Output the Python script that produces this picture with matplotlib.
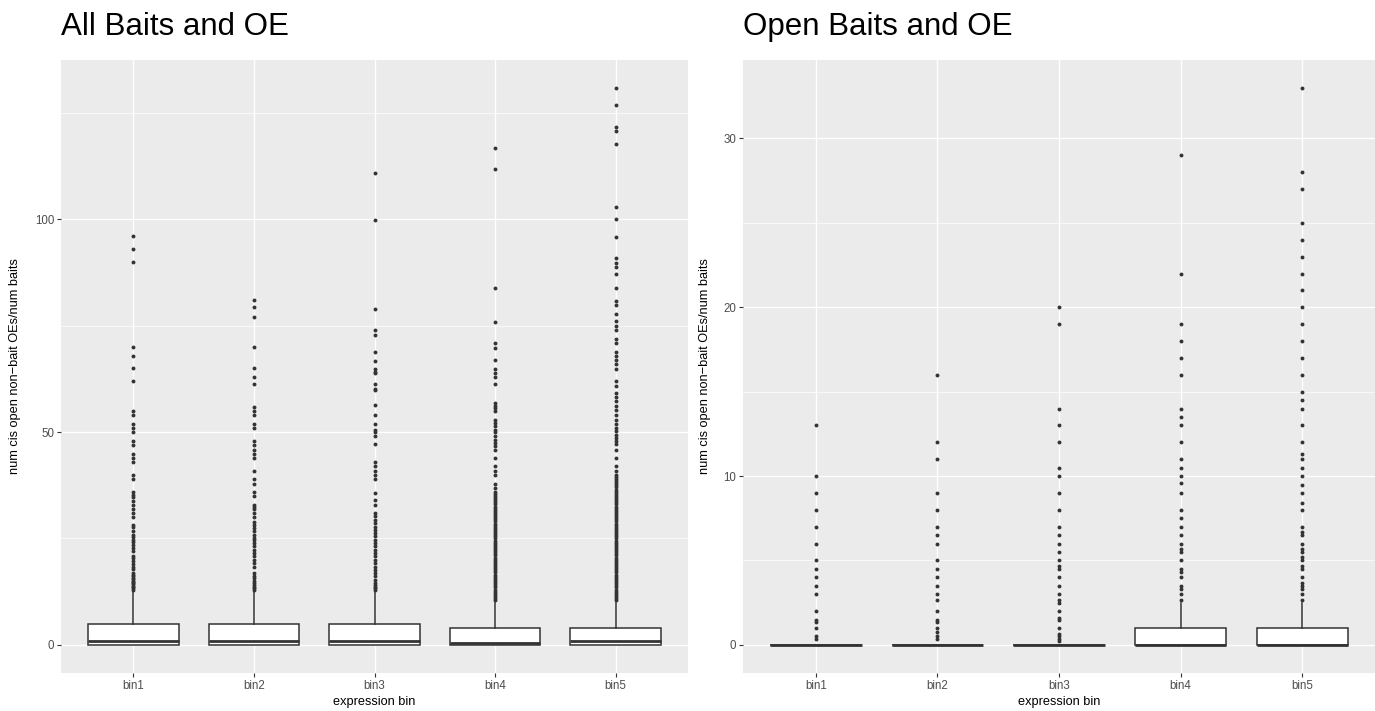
import matplotlib
matplotlib.use('Agg')
import matplotlib.pyplot as plt
import numpy as np

bins = ['bin1', 'bin2', 'bin3', 'bin4', 'bin5']

# left panel: all baits and OE
all_q1 = [0, 0, 0, 0, 0]
all_med = [1, 1, 1, 0.5, 1]
all_q3 = [5, 5, 5, 4, 4]
all_whishi = [12.3, 12.3, 12.3, 10, 10]
all_out_bin1 = [12.8, 13.3, 13.6, 13.9, 14.2, 14.5, 14.8, 15.1, 15.4, 15.7, 16.2, 16.5,
                16.9, 17.9, 18.4, 19.1, 19.8, 20.4, 20.9, 22.0, 22.7, 23.5, 24.1, 24.7,
                25.3, 25.9, 26.7, 27.7, 28.2, 30.0, 31.0, 31.9, 32.8, 33.9, 34.7, 35.3,
                35.9, 38.9, 39.8, 43.0, 43.9, 44.9, 46.9, 47.8, 50.0, 51.0, 51.9, 54.0,
                54.9, 62.0, 65.0, 68.0, 70.0, 90.0, 93.0, 96.0]
all_out_bin2 = [12.9, 13.3, 13.7, 14.1, 14.5, 15.1, 15.7, 16.2, 16.9, 18.4, 19.2, 20.0,
                20.8, 21.6, 22.4, 23.2, 24.0, 24.6, 25.1, 25.9, 26.7, 27.4, 28.2, 28.9,
                30.0, 31.0, 31.9, 32.4, 32.9, 34.9, 35.9, 37.9, 38.9, 40.8, 43.8, 44.9,
                45.9, 46.9, 47.8, 51.0, 51.9, 54.0, 54.9, 55.9, 61.2, 63.0, 65.0, 70.0,
                77.0, 79.5, 81.0]
all_out_bin3 = [12.8, 13.3, 13.7, 14.1, 14.5, 15.3, 16.1, 16.9, 17.6, 18.4, 19.2, 20.0,
                20.8, 21.6, 22.4, 23.2, 23.9, 24.7, 25.5, 26.3, 27.1, 27.8, 28.6, 29.4,
                30.2, 31.0, 32.8, 34.1, 35.8, 38.9, 39.8, 40.8, 42.0, 42.9, 47.1, 49.0,
                50.0, 50.6, 51.9, 54.0, 56.3, 59.8, 60.2, 61.2, 63.8, 64.2, 64.8, 66.8,
                68.8, 72.8, 74.0, 78.9, 99.8, 110.9]
all_out_bin4 = [10.5, 11.0, 11.5, 12.0, 12.5, 13.0, 13.5, 14.0, 14.5, 15.0, 15.5, 16.0,
                16.5, 17.0, 17.5, 18.0, 18.5, 19.0, 19.5, 20.0, 20.5, 21.0, 21.5, 22.0,
                22.5, 23.0, 23.5, 24.0, 24.5, 25.0, 25.5, 26.0, 26.5, 27.0, 27.5, 28.0,
                28.5, 29.0, 29.5, 30.0, 30.5, 31.0, 31.5, 32.0, 32.5, 33.0, 33.5, 34.0,
                34.5, 35.0, 35.5, 36.0, 36.9, 37.9, 39.8, 40.8, 42.0, 43.9, 45.9, 46.7,
                47.5, 48.2, 49.0, 50.0, 50.6, 51.4, 52.2, 52.8, 54.9, 55.7, 56.2, 56.9,
                61.3, 62.9, 63.8, 64.8, 66.9, 69.7, 70.9, 75.8, 83.8, 111.8, 116.8]
all_out_bin5 = [10.5, 11.0, 11.5, 12.0, 12.5, 13.0, 13.5, 14.0, 14.5, 15.0, 15.5, 16.0,
                16.5, 17.0, 17.5, 18.0, 18.5, 19.0, 19.5, 20.0, 20.5, 21.0, 21.5, 22.0,
                22.5, 23.0, 23.5, 24.0, 24.5, 25.0, 25.5, 26.0, 26.5, 27.0, 27.5, 28.0,
                28.5, 29.0, 29.5, 30.0, 30.5, 31.0, 31.5, 32.0, 32.5, 33.0, 33.5, 34.0,
                34.5, 35.0, 35.5, 36.0, 36.5, 37.0, 37.5, 38.0, 38.5, 39.0, 39.5, 40.0,
                40.8, 42.0, 43.9, 45.9, 47.1, 47.8, 48.6, 49.4, 50.2, 51.0, 51.8, 52.8,
                54.1, 55.3, 56.2, 57.3, 58.3, 59.1, 60.8, 62.0, 64.8, 66.0, 66.9, 67.9,
                68.8, 70.9, 71.9, 73.9, 74.9, 76.0, 77.7, 79.8, 80.8, 83.8, 87.1, 88.8,
                89.8, 90.9, 95.8, 100.0, 102.9, 117.7, 120.8, 121.7, 126.9, 130.9]

# right panel: open baits and OE
open_q1 = [0, 0, 0, 0, 0]
open_med = [0, 0, 0, 0, 0]
open_q3 = [0, 0, 0, 1, 1]
open_whishi = [0, 0, 0, 2.5, 2.5]
open_out_bin1 = [0.33, 0.5, 1.0, 1.33, 1.5, 2.0, 3.0, 3.5, 4.0, 4.5, 5.0, 6.0, 7.0,
                 8.0, 9.0, 10.0, 13.0]
open_out_bin2 = [0.33, 0.5, 0.75, 1.0, 1.33, 1.5, 2.0, 2.67, 3.0, 3.5, 4.0, 4.5, 5.0,
                 6.0, 6.5, 7.0, 8.0, 9.0, 11.0, 12.0, 16.0]
open_out_bin3 = [0.2, 0.33, 0.5, 0.67, 1.0, 1.5, 1.6, 2.0, 2.5, 2.67, 3.0, 3.5, 4.0,
                 4.5, 4.67, 5.0, 5.5, 6.0, 6.5, 7.0, 8.0, 9.0, 10.0, 10.5, 12.0, 13.0,
                 14.0, 19.0, 20.0]
open_out_bin4 = [2.67, 3.0, 3.33, 3.5, 4.0, 4.33, 4.5, 5.0, 5.5, 5.67, 6.0, 6.5, 7.0,
                 7.5, 8.0, 9.0, 9.6, 10.0, 10.5, 11.0, 12.0, 13.0, 13.5, 14.0, 16.0,
                 17.0, 18.0, 19.0, 22.0, 29.0]
open_out_bin5 = [2.67, 3.0, 3.33, 3.5, 3.67, 4.0, 4.5, 4.67, 5.0, 5.2, 5.5, 5.67, 6.0,
                 6.5, 6.67, 7.0, 8.0, 8.4, 9.0, 9.5, 10.0, 10.5, 11.0, 11.3, 12.0, 13.0,
                 14.0, 14.5, 15.0, 16.0, 17.0, 18.0, 19.0, 20.0, 21.0, 22.0, 23.0, 24.0,
                 25.0, 27.0, 28.0, 33.0]

plt.rcParams['font.family'] = ['Liberation Sans', 'DejaVu Sans']

W, H = 1375, 711


def make_stats(q1, med, q3, whishi, outliers):
    stats = []
    for i in range(len(bins)):
        stats.append({'q1': q1[i], 'med': med[i], 'q3': q3[i], 'whislo': q1[i],
                      'whishi': whishi[i], 'fliers': outliers[i], 'label': bins[i]})
    return stats


def draw_panel(fig, rect, stats, ylim, major, minor, title):
    ax = fig.add_axes(rect)
    ax.set_facecolor('#EBEBEB')
    for s in ax.spines.values():
        s.set_visible(False)
    ax.set_axisbelow(True)
    ax.bxp(stats, positions=np.arange(1, 6), widths=0.75, showcaps=False,
           patch_artist=True,
           boxprops=dict(facecolor='white', edgecolor='#333333', linewidth=1.1),
           medianprops=dict(color='#333333', linewidth=2.0),
           whiskerprops=dict(color='#333333', linewidth=1.1),
           flierprops=dict(marker='o', markersize=2.8, markerfacecolor='#333333',
                           markeredgecolor='#333333', markeredgewidth=0))
    ax.set_xlim(0.4, 5.6)
    ax.set_ylim(*ylim)
    ax.set_xticks(np.arange(1, 6))
    ax.set_xticklabels(bins)
    ax.set_yticks(major)
    ax.set_yticks(minor, minor=True)
    ax.grid(which='major', color='white', linewidth=1.0)
    ax.grid(which='minor', axis='y', color='white', linewidth=0.5)
    ax.tick_params(which='major', length=2.7, width=0.8, color='#333333',
                   labelcolor='#4D4D4D', labelsize=8.3, pad=2.2)
    ax.tick_params(which='minor', length=0)
    x0 = rect[0]
    fig.text(x0, 1 - 35 / H, title, fontsize=22.5, ha='left', va='baseline')
    return ax


def main():
    fig = plt.figure(figsize=(W / 100, H / 100), dpi=100)

    bottom = 1 - 672.7 / H
    height = (672.7 - 60) / H
    left_rect = [61 / W, bottom, 627 / W, height]
    right_rect = [743 / W, bottom, (W - 743) / W, height]

    all_out = [all_out_bin1, all_out_bin2, all_out_bin3, all_out_bin4, all_out_bin5]
    open_out = [open_out_bin1, open_out_bin2, open_out_bin3, open_out_bin4, open_out_bin5]

    draw_panel(fig, left_rect, make_stats(all_q1, all_med, all_q3, all_whishi, all_out),
               (-6.55, 137.45), [0, 50, 100], [25, 75, 125], 'All Baits and OE')
    draw_panel(fig, right_rect, make_stats(open_q1, open_med, open_q3, open_whishi, open_out),
               (-1.65, 34.65), [0, 10, 20, 30], [5, 15, 25], 'Open Baits and OE')

    ylab = 'num cis open non\u2212bait OEs/num baits'
    ymid = 1 - (60 + 672.7) / 2 / H
    fig.text(15 / W, ymid, ylab, rotation=90, fontsize=9.2, ha='center', va='center')
    fig.text(705 / W, ymid, ylab, rotation=90, fontsize=9.2, ha='center', va='center')
    for r in (left_rect, right_rect):
        fig.text(r[0] + r[2] / 2, 1 - 702 / H, 'expression bin', fontsize=9.2,
                 ha='center', va='center')

    fig.savefig('out.png', dpi=100)


main()
